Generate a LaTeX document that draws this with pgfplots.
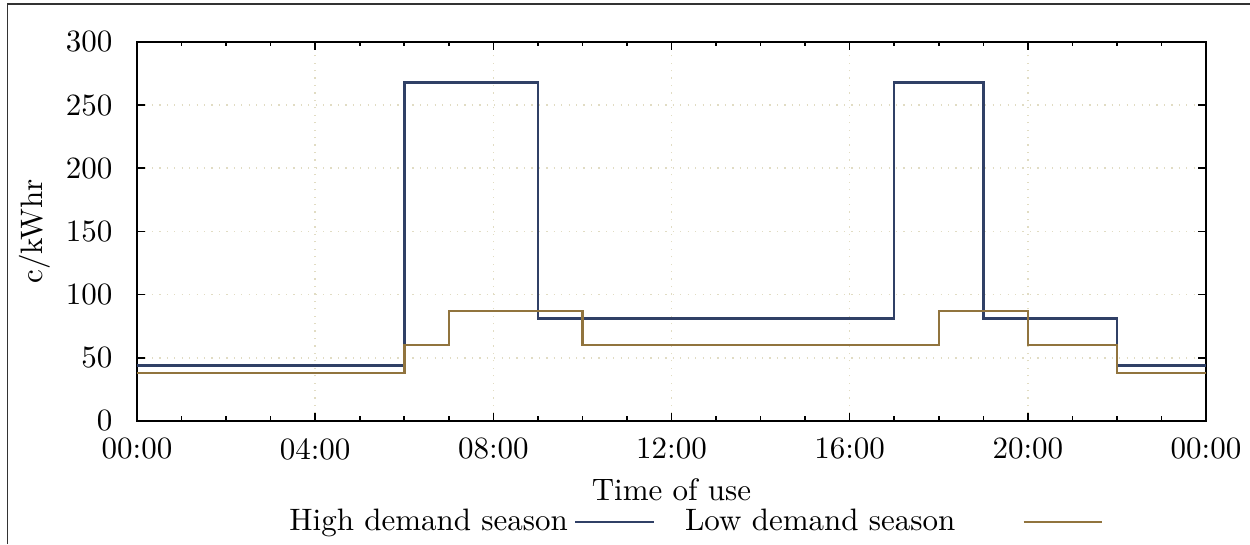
\documentclass[border=0pt]{standalone}
\usepackage{pgfplots}
\pgfplotsset{compat=1.18}
\definecolor{hi}{RGB}{48,64,102}
\definecolor{lo}{RGB}{145,116,62}
\definecolor{gridc}{RGB}{225,220,195}
\pgfplotsset{
  hileg/.style={legend image code/.code={\draw[##1] (0pt,0pt) -- (25.5pt,0pt); \path (33pt,0pt);}},
  loleg/.style={legend image code/.code={\path (0pt,0pt); \draw[##1] (19.6pt,0pt) -- (45pt,0pt);}},
}
\begin{document}
\begin{tikzpicture}
\begin{axis}[
  scale only axis, width=344.8pt, height=122.3pt,
  xmin=0, xmax=24, ymin=0, ymax=300,
  xtick={0,4,...,24},
  xticklabels={00:00,04:00,08:00,12:00,16:00,20:00,00:00},
  minor x tick num=3,
  ytick={0,50,...,300},
  major tick length=2.7pt, minor tick length=1.5pt,
  tick style={black, line width=0.5pt},
  axis line style={line width=0.6pt},
  grid=major, major grid style={gridc, dotted, line width=0.5pt},
  xticklabel style={yshift=-2pt},
  yticklabel style={xshift=-4.4pt},
  xlabel={Time of use}, ylabel={c/kWhr},
  x label style={at={(axis description cs:0.5,-0.18)}, anchor=center},
  y label style={at={(axis description cs:-0.0954,0.5)}, anchor=center},
  legend plot pos=right,
  legend columns=2,
  legend style={draw=none, fill=none, inner sep=0pt,
    at={(axis description cs:0.1362,-0.266)}, anchor=west,
    /tikz/every even column/.append style={column sep=0pt},
    /tikz/every odd column/.append style={column sep=0pt}},
]
\addplot[const plot, hi, line width=0.8pt, hileg]
  coordinates {(0,44) (6,268) (9,81) (17,268) (19,81) (22,44) (24,44)};
\addlegendentry{High demand season}
\addplot[const plot, lo, line width=0.8pt, loleg]
  coordinates {(0,38) (6,60) (7,87) (10,60) (18,87) (20,60) (22,38) (24,38)};
\addlegendentry{Low demand season}
\coordinate (sw) at (rel axis cs:0,0);
\coordinate (ne) at (rel axis cs:1,1);
\end{axis}
\pgfresetboundingbox
\path[use as bounding box] ([shift={(-44.2pt,-39.7pt)}]sw) rectangle ([shift={(14.2pt,13.5pt)}]ne);
\draw[line width=0.6pt, black!80] ([shift={(-41.8pt,-39.7pt)}]sw) |- ([shift={(14.2pt,12.2pt)}]ne);
\end{tikzpicture}
\end{document}
